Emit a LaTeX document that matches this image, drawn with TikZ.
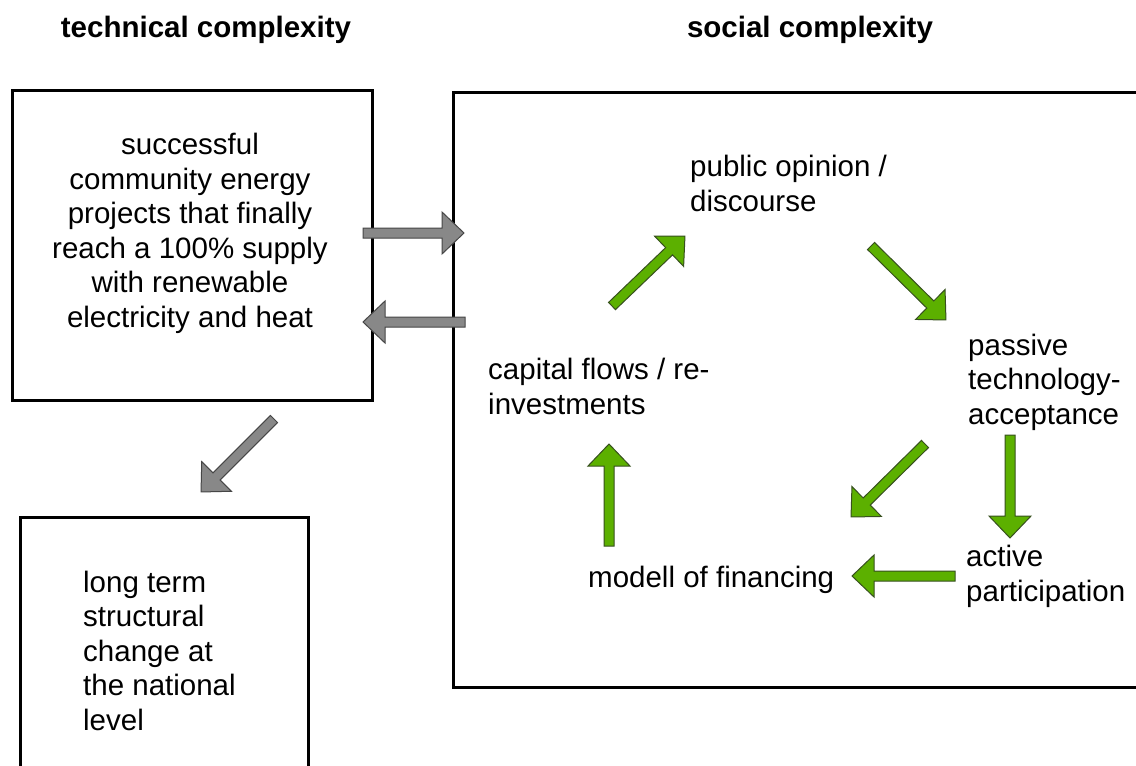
\documentclass[tikz,border=0pt]{standalone}
\usepackage{fontspec}
\setmainfont{Liberation Sans}
\usetikzlibrary{calc}
\definecolor{arrgreen}{RGB}{92,176,0}
\definecolor{arrgreenline}{RGB}{55,80,30}
\definecolor{arrgray}{RGB}{136,136,136}
\definecolor{arrgrayline}{RGB}{70,70,70}
\newcommand{\blockarrow}[3]{%
  \draw[#1] let \p1=#2, \p2=#3, \n1={atan2(\y2-\y1,\x2-\x1)}, \n2={veclen(\x2-\x1,\y2-\y1)} in
    [shift={(\p1)}, rotate=\n1] (0,-5) -- (\n2-22,-5) -- (\n2-22,-21) -- (\n2,0) -- (\n2-22,21) -- (\n2-22,5) -- (0,5) -- cycle;}
\begin{document}
\begin{tikzpicture}[x=1pt,y=-1pt,
  txt/.style={font=\fontsize{29.5}{34.5}\selectfont, inner sep=0pt, align=left, anchor=base west},
  ttl/.style={font=\fontsize{29.5}{34.5}\selectfont\bfseries, inner sep=0pt, anchor=base},
  frame/.style={line width=3pt, draw=black},
  greenarrow/.style={fill=arrgreen, draw=arrgreenline, line width=1pt, line join=miter},
  grayarrow/.style={fill=arrgray, draw=arrgrayline, line width=1pt, line join=miter}]
\useasboundingbox (0,0) rectangle (1136,766);
\fill[white] (0,0) rectangle (1136,766);
\begin{scope}
\clip (0,0) rectangle (1136,766);
% frames
\draw[frame] (12,90) rectangle (372,400);
\draw[frame] (20,517) rectangle (308,790);
\draw[frame] (453,92) rectangle (1160,687);
\end{scope}
% titles
\node[ttl] (ttech) at (206,37) {technical complexity};
\node[ttl] (tsoc) at (810,37) {social complexity};
% texts (anchor = baseline of the last line)
\node[txt, align=center, anchor=base] (proj) at (190,327) {successful\\community energy\\projects that finally\\reach a 100\% supply\\with renewable\\electricity and heat};
\node[txt] (longterm) at (83,730) {long term\\structural\\change at\\the national\\level};
\node[txt] (public) at (690,211) {public opinion /\\discourse};
\node[txt] (passive) at (968,424) {passive\\technology-\\acceptance};
\node[txt] (capital) at (488,414) {capital flows / re-\\investments};
\node[txt] (active) at (966,601) {active\\participation};
\node[txt] (modell) at (588,587) {modell of financing};
% arrow end points
\coordinate (g1s) at (363,233); \coordinate (g1e) at (464,233);
\coordinate (g2s) at (465,322); \coordinate (g2e) at (363,322);
\coordinate (g3s) at (274,419); \coordinate (g3e) at (201,492);
\coordinate (c1s) at (612,306); \coordinate (c1e) at (685,236);
\coordinate (c2s) at (871,246); \coordinate (c2e) at (946,320);
\coordinate (c3s) at (925,444); \coordinate (c3e) at (851,517);
\coordinate (c4s) at (1010,435); \coordinate (c4e) at (1010,538);
\coordinate (c5s) at (955,576); \coordinate (c5e) at (852,576);
\coordinate (c6s) at (609,546); \coordinate (c6e) at (609,444);
\blockarrow{grayarrow}{(g1s)}{(g1e)}
\blockarrow{grayarrow}{(g2s)}{(g2e)}
\blockarrow{grayarrow}{(g3s)}{(g3e)}
\blockarrow{greenarrow}{(c1s)}{(c1e)}
\blockarrow{greenarrow}{(c2s)}{(c2e)}
\blockarrow{greenarrow}{(c3s)}{(c3e)}
\blockarrow{greenarrow}{(c4s)}{(c4e)}
\blockarrow{greenarrow}{(c5s)}{(c5e)}
\blockarrow{greenarrow}{(c6s)}{(c6e)}
\end{tikzpicture}
\end{document}
